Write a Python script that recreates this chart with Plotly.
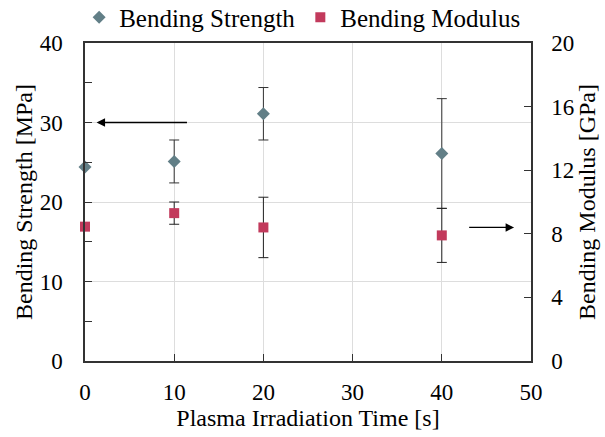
import plotly.graph_objects as go

time_s = [0, 10, 20, 40]
strength_mpa = [24.4, 25.1, 31.1, 26.1]
strength_err = [0.0, 2.7, 3.3, 6.9]
modulus_gpa = [8.45, 9.3, 8.4, 7.9]
modulus_err = [0.0, 0.7, 1.9, 1.7]

FONT = "'Liberation Serif', 'Times New Roman', 'DejaVu Serif', serif"

fig = go.Figure()
fig.add_trace(go.Scatter(
    x=time_s, y=strength_mpa, mode="markers", name="Bending Strength",
    marker=dict(symbol="diamond", size=10, color="#627f87"),
    error_y=dict(type="data", array=strength_err, visible=True,
                 color="#333333", thickness=1, width=5),
    cliponaxis=False, yaxis="y"))
fig.add_trace(go.Scatter(
    x=time_s, y=modulus_gpa, mode="markers", name="Bending Modulus",
    marker=dict(symbol="square", size=10, color="#c23a5c"),
    error_y=dict(type="data", array=modulus_err, visible=True,
                 color="#222222", thickness=1, width=5),
    cliponaxis=False, yaxis="y2"))

fig.add_annotation(x=1.3, y=30, ax=11.6, ay=30, xref="x", yref="y",
                   axref="x", ayref="y", text="", showarrow=True,
                   arrowhead=2, arrowsize=1.3, arrowwidth=1.3, arrowcolor="black")
fig.add_annotation(x=48.1, y=8.4, ax=42.9, ay=8.4, xref="x", yref="y2",
                   axref="x", ayref="y2", text="", showarrow=True,
                   arrowhead=2, arrowsize=1.3, arrowwidth=1.3, arrowcolor="black")

axis_common = dict(showline=True, linecolor="#333333", linewidth=1.5,
                   ticks="inside", ticklen=7, tickcolor="#333333",
                   tickfont=dict(family=FONT, size=23, color="black"),
                   zeroline=False)

fig.update_layout(
    width=605, height=437,
    margin=dict(l=85, r=74, t=43, b=76, autoexpand=False),
    paper_bgcolor="white", plot_bgcolor="white",
    font=dict(family=FONT, size=23, color="black"),
    showlegend=True,
    legend=dict(orientation="h", x=0.488, xanchor="center", y=1.08, yanchor="middle",
                font=dict(family=FONT, size=25, color="black"),
                itemwidth=30, tracegroupgap=0, bgcolor="rgba(0,0,0,0)"),
    xaxis=dict(range=[0, 50], dtick=10, mirror=True, showgrid=True,
               gridcolor="#dddddd", gridwidth=1, ticklabelstandoff=10,
               title=dict(text="Plasma Irradiation Time [s]", standoff=0,
                          font=dict(family=FONT, size=24)),
               **axis_common),
    yaxis=dict(range=[0, 40], dtick=10, showgrid=True, gridcolor="#dddddd",
               gridwidth=1, ticklabelstandoff=16,
               minor=dict(dtick=5, ticks="inside", ticklen=7,
                          tickcolor="#333333", showgrid=False),
               title=dict(text="Bending Strength [MPa]", standoff=0,
                          font=dict(family=FONT, size=24)),
               **axis_common),
    yaxis2=dict(range=[0, 20], dtick=4, overlaying="y", side="right",
                showgrid=False, ticklabelstandoff=14,
                title=dict(text="Bending Modulus [GPa]", standoff=4,
                           font=dict(family=FONT, size=24)),
                **axis_common),
)

fig.write_html("out.html")
